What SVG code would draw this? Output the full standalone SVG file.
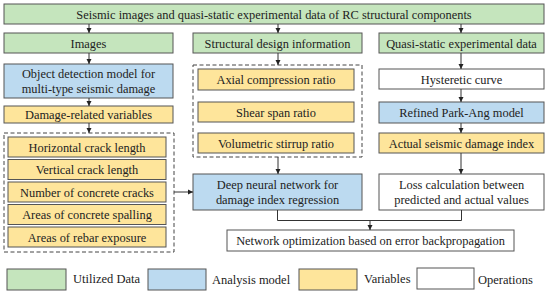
<svg xmlns="http://www.w3.org/2000/svg" width="550" height="294" viewBox="0 0 550 294">
<defs>
<style>
.g{fill:#c5e5bd;stroke:#555;stroke-width:1}
.b{fill:#bcdaf0;stroke:#555;stroke-width:1}
.y{fill:#fee59b;stroke:#555;stroke-width:1}
.w{fill:#fff;stroke:#555;stroke-width:1}
.d{fill:none;stroke:#444;stroke-width:1;stroke-dasharray:4,2.5}
text{font-family:"Liberation Serif","Times New Roman",serif;font-size:12.4px;fill:#222;text-anchor:middle}
.l{text-anchor:start;font-size:12.5px}
.c{fill:none;stroke:#333;stroke-width:1}
</style>
<marker id="a" markerWidth="6" markerHeight="6" refX="5" refY="3" orient="auto" markerUnits="userSpaceOnUse">
<path d="M0,0.5 L5,3 L0,5.5 z" fill="#222"/>
</marker>
</defs>
<rect width="550" height="294" fill="#fff"/>
<g id="top"><rect class="g" x="4" y="4" width="540" height="20"/><text x="274" y="18.5">Seismic images and quasi-static experimental data of RC structural components</text></g>
<g id="images"><rect class="g" x="4" y="33" width="169" height="20"/><text x="88.5" y="47.5">Images</text></g>
<g id="structural"><rect class="g" x="193" y="33" width="169" height="20"/><text x="277.5" y="47.5">Structural design information</text></g>
<g id="quasi"><rect class="g" x="379" y="33" width="165" height="20"/><text x="461.5" y="47.5">Quasi-static experimental data</text></g>
<g id="objdet"><rect class="b" x="4" y="64" width="169" height="34"/><text x="88.5" y="78">Object detection model for</text><text x="88.5" y="93">multi-type seismic damage</text></g>
<g id="damagevars"><rect class="y" x="4" y="106" width="169" height="17"/><text x="88.5" y="119">Damage-related variables</text></g>
<g id="leftgroup"><rect class="d" x="4" y="133" width="170" height="119"/>
<g id="hcrack"><rect class="y" x="8" y="137" width="158" height="20"/><text x="87" y="151.5">Horizontal crack length</text></g>
<g id="vcrack"><rect class="y" x="8" y="159.5" width="158" height="20"/><text x="87" y="174">Vertical crack length</text></g>
<g id="ncracks"><rect class="y" x="8" y="182" width="158" height="20"/><text x="87" y="196.5">Number of concrete cracks</text></g>
<g id="spalling"><rect class="y" x="8" y="204.5" width="158" height="20"/><text x="87" y="219">Areas of concrete spalling</text></g>
<g id="rebar"><rect class="y" x="8" y="227" width="158" height="20"/><text x="87" y="241.5">Areas of rebar exposure</text></g>
</g>
<g id="midgroup"><rect class="d" x="193" y="65" width="169" height="92"/>
<g id="axial"><rect class="y" x="198" y="69" width="156" height="21"/><text x="276" y="84">Axial compression ratio</text></g>
<g id="shear"><rect class="y" x="198" y="102" width="156" height="20"/><text x="276" y="116.5">Shear span ratio</text></g>
<g id="volumetric"><rect class="y" x="198" y="133" width="156" height="20"/><text x="276" y="147.5">Volumetric stirrup ratio</text></g>
</g>
<g id="dnn"><rect class="b" x="193" y="174" width="169" height="36"/><text x="277.5" y="189">Deep neural network for</text><text x="277.5" y="204">damage index regression</text></g>
<g id="hyst"><rect class="w" x="379" y="69" width="165" height="20"/><text x="461.5" y="83.5">Hysteretic curve</text></g>
<g id="parkang"><rect class="b" x="379" y="102" width="165" height="21"/><text x="461.5" y="117">Refined Park-Ang model</text></g>
<g id="actual"><rect class="y" x="379" y="133" width="165" height="20"/><text x="461.5" y="147.5">Actual seismic damage index</text></g>
<g id="loss"><rect class="w" x="379" y="174" width="165" height="36"/><text x="461.5" y="189">Loss calculation between</text><text x="461.5" y="204">predicted and actual values</text></g>
<g id="netopt"><rect class="w" x="227" y="230" width="287" height="21"/><text x="370.5" y="245">Network optimization based on error backpropagation</text></g>
<g id="connectors">
<path class="c" d="M89,24 V33" marker-end="url(#a)"/>
<path class="c" d="M278,24 V33" marker-end="url(#a)"/>
<path class="c" d="M461,24 V33" marker-end="url(#a)"/>
<path class="c" d="M89,53 V64" marker-end="url(#a)"/>
<path class="c" d="M89,98 V106" marker-end="url(#a)"/>
<path class="c" d="M89,123 V133" marker-end="url(#a)"/>
<path class="c" d="M278,53 V65" marker-end="url(#a)"/>
<path class="c" d="M461,53 V69" marker-end="url(#a)"/>
<path class="c" d="M461,89 V102" marker-end="url(#a)"/>
<path class="c" d="M461,123 V133" marker-end="url(#a)"/>
<path class="c" d="M461,153 V174" marker-end="url(#a)"/>
<path class="c" d="M278,157 V174" marker-end="url(#a)"/>
<path class="c" d="M174,192 H193" marker-end="url(#a)"/>
<path class="c" d="M277.5,210 V220.5 H461.5 V210"/>
<path class="c" d="M370,220.5 V230" marker-end="url(#a)"/>
</g>
<g id="legend">
<rect class="g" x="7" y="269" width="59" height="21"/><text class="l" x="73" y="283">Utilized Data</text>
<rect class="b" x="148" y="269" width="58" height="21"/><text class="l" x="212" y="284">Analysis model</text>
<rect class="y" x="299" y="269" width="58" height="21"/><text class="l" x="364" y="283">Variables</text>
<rect class="w" x="417" y="268" width="57" height="21"/><text class="l" x="478" y="284">Operations</text>
</g>
</svg>
